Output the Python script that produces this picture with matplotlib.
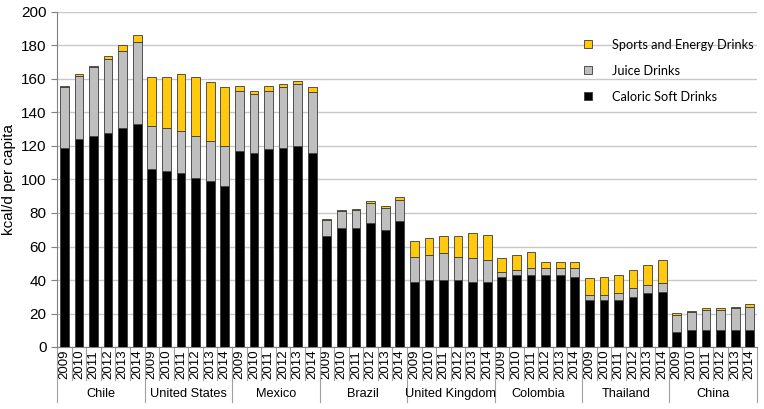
import numpy as np
import matplotlib.pyplot as plt
from matplotlib.patches import Patch

plt.rcParams["font.family"] = ["Liberation Sans", "DejaVu Sans"]

countries = ["Chile", "United States", "Mexico", "Brazil",
             "United Kingdom", "Colombia", "Thailand", "China"]
years = ["2009", "2010", "2011", "2012", "2013", "2014"]

# kcal/d per capita, one row per country, one column per year
soft = [
    [119, 124, 126, 128, 131, 133],
    [106, 105, 104, 101, 99, 96],
    [117, 116, 118, 119, 120, 116],
    [66, 71, 71, 74, 70, 75],
    [39, 40, 40, 40, 39, 39],
    [42, 43, 43, 43, 43, 42],
    [28, 28, 28, 30, 32, 33],
    [9, 10, 10, 10, 10, 10],
]
juice = [
    [36.5, 38, 41, 44, 46, 49],
    [26, 26, 25, 25, 24, 24],
    [36, 35, 35, 36, 37, 36],
    [10, 10, 11, 12, 13, 13],
    [15, 15, 16, 14, 14, 13],
    [3, 3, 4, 4, 4, 5],
    [3, 3, 4, 5, 5, 5],
    [10, 11, 12, 12, 13, 14],
]
sports = [
    [0.6, 1, 1, 2, 3, 4],
    [29, 30, 34, 35, 35, 35],
    [3, 2, 3, 2, 2, 3],
    [0.6, 0.6, 0.6, 1, 1, 1.5],
    [9, 10, 10, 12, 15, 15],
    [8, 9, 10, 4, 4, 4],
    [10, 11, 11, 11, 12, 14],
    [1, 0.6, 1, 1, 1, 1.5],
]

soft = np.array(soft).ravel()
juice = np.array(juice).ravel()
sports = np.array(sports).ravel()
n = len(soft)
x = np.arange(n)

fig = plt.figure(figsize=(7.64, 4.09), dpi=100)
ax = fig.add_axes([57 / 764, 1 - 347 / 409, 700 / 764, 335 / 409])

yellow = "#FFC90E"
gray = "#BFBFBF"
edge = "#3a3a3a"
w = 0.6
ax.bar(x, soft, w, color="black", edgecolor=edge, linewidth=0.6, zorder=3)
ax.bar(x, juice, w, bottom=soft, color=gray, edgecolor=edge, linewidth=0.6, zorder=3)
ax.bar(x, sports, w, bottom=soft + juice, color=yellow, edgecolor=edge, linewidth=0.6, zorder=3)

ax.set_xlim(-0.5, n - 0.5)
ax.set_ylim(0, 200)
ax.set_yticks(np.arange(0, 201, 20))
ax.yaxis.grid(True, color="#c8c8c8", linewidth=1)
ax.set_axisbelow(True)
for s in ["top", "right"]:
    ax.spines[s].set_visible(False)
ax.spines["left"].set_color("#808080")
ax.spines["bottom"].set_color("#808080")
ax.tick_params(axis="y", length=4, color="#808080", labelsize=11)
ax.set_ylabel("kcal/d per capita", fontsize=11)

ax.set_xticks(x)
ax.set_xticklabels(years * len(countries), rotation=90, fontsize=9.5)
ax.tick_params(axis="x", length=0, pad=2)

# two level axis: separators between years and between countries
trans = ax.get_xaxis_transform()
for i in range(n + 1):
    long = i % 6 == 0
    y_end = -55 / 335 if long else -33 / 335
    ax.plot([i - 0.5, i - 0.5], [0, y_end], transform=trans, color="#a0a0a0",
            linewidth=0.8, clip_on=False)
for k, c in enumerate(countries):
    ax.text(k * 6 + 2.5, -47 / 335, c, transform=trans, ha="center", va="center",
            fontsize=9.2)

handles = [Patch(facecolor=yellow, edgecolor=edge, linewidth=0.6),
           Patch(facecolor=gray, edgecolor=edge, linewidth=0.6),
           Patch(facecolor="black", edgecolor=edge, linewidth=0.6)]
labels = ["Sports and Energy Drinks", "Juice Drinks", "Caloric Soft Drinks"]
ax.legend(handles, labels, loc="upper right", bbox_to_anchor=(1.012, 0.955),
          frameon=False, prop={"family": ["Lato", "DejaVu Sans"], "size": 9.2},
          handlelength=0.6, handleheight=0.6, handletextpad=1.6, labelspacing=1.1)

fig.savefig("out.png", dpi=100)
